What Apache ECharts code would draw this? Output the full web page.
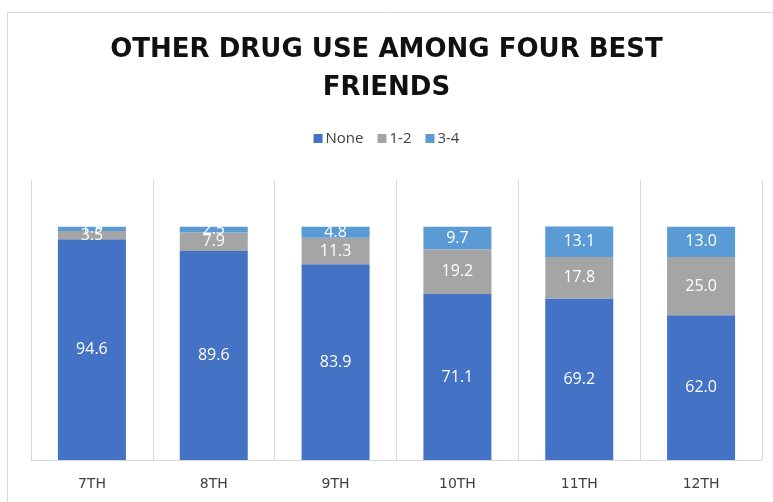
<!DOCTYPE html>
<html><head><meta charset="utf-8">
<script src="https://cdn.jsdelivr.net/npm/echarts@6/dist/echarts.min.js"></script>
<style>html,body{margin:0;padding:0;background:#fff}#c{width:773px;height:502px}</style>
</head><body><div id="c"></div>
<script>
const categories = ['7TH', '8TH', '9TH', '10TH', '11TH', '12TH'];
const noneVals = [94.6, 89.6, 83.9, 71.1, 69.2, 62.0];
const oneTwoVals = [3.5, 7.9, 11.3, 19.2, 17.8, 25.0];
const threeFourVals = [1.9, 2.5, 4.8, 9.7, 13.1, 13.0];

const chart = echarts.init(document.getElementById('c'), null, {renderer: 'canvas'});
const lbl = {show: true, position: 'inside', color: '#fff', fontSize: 16, fontFamily: 'Open Sans', formatter: p => p.value.toFixed(1)};
function s(name, data, color) {
  return {name, type: 'bar', stack: 'a', data, barWidth: 68, itemStyle: {color}, label: lbl, emphasis: {disabled: true}};
}
chart.setOption({
  animation: false,
  title: {
    text: 'OTHER DRUG USE AMONG FOUR BEST\nFRIENDS',
    left: 'center', top: 26,
    textStyle: {fontFamily: 'DejaVu Sans', fontWeight: 'bold', fontSize: 26, color: '#111', lineHeight: 38}
  },
  legend: {
    top: 126, left: 'center', itemWidth: 9, itemHeight: 9, itemGap: 14,
    icon: 'rect',
    textStyle: {fontFamily: 'Open Sans', fontSize: 15, color: '#404040', padding: [0, 0, 0, -2]},
    data: ['None', '1-2', '3-4']
  },
  graphic: [{type: 'rect', shape: {x: 7.5, y: 12.5, width: 800, height: 600}, style: {fill: 'none', stroke: '#d9d9d9', lineWidth: 1}, silent: true, z: -1}],
  grid: {left: 31, right: 11, top: 180, bottom: 42},
  xAxis: {
    type: 'category', data: categories,
    axisLine: {lineStyle: {color: '#d9d9d9'}},
    axisTick: {show: false},
    splitLine: {show: true, lineStyle: {color: '#d9d9d9'}},
    axisLabel: {color: '#404040', fontSize: 14, fontFamily: 'DejaVu Sans', margin: 17}
  },
  yAxis: {type: 'value', min: 0, max: 120, show: false, splitLine: {show: false}},
  series: [
    s('None', noneVals, '#4472C4'),
    s('1-2', oneTwoVals, '#A5A5A5'),
    s('3-4', threeFourVals, '#5B9BD5')
  ]
});
</script></body></html>
